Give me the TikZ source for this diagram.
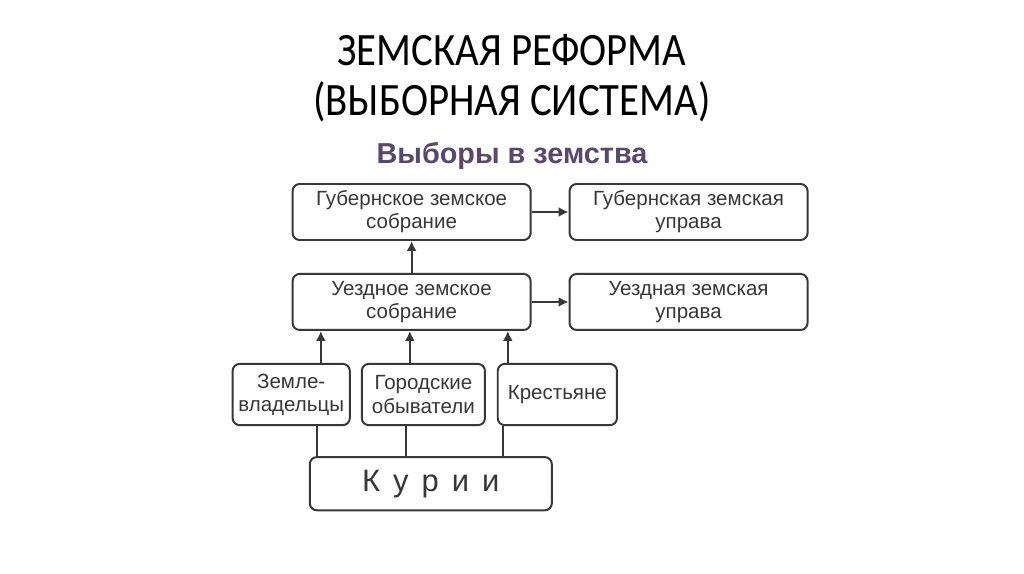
\documentclass[tikz,border=0pt]{standalone}
\usepackage{fontspec}
\setmainfont{Liberation Sans}
\newfontfamily\titlefont[FakeStretch=0.88]{Carlito}
\usepackage{xcolor}
\usetikzlibrary{arrows.meta,positioning}

\definecolor{boxline}{RGB}{55,55,55}
\definecolor{headpurple}{RGB}{88,72,108}

\begin{document}
\begin{tikzpicture}[
      block/.style={draw=boxline, line width=1.4pt, rounded corners=5pt, align=center, text=boxline,
                    font=\fontsize{14.6}{16.5}\selectfont, minimum width=5.95cm, minimum height=1.4cm, inner sep=0pt},
      smallblock/.style={block, minimum height=1.53cm},
      link/.style={draw=boxline, line width=1.4pt},
      >={Latex[length=7pt,width=7pt]}
    ]
    \useasboundingbox[fill=white] (0,0) rectangle (25.6,-14.35);

    % Title
    \node[align=center, font=\titlefont\fontsize{33}{35.5}\selectfont] (title) at (12.8,-1.95)
      {ЗЕМСКАЯ РЕФОРМА\\(ВЫБОРНАЯ СИСТЕМА)};
    \node[font=\bfseries\fontsize{20.5}{22}\selectfont, text=headpurple] (head) at (12.8,-3.9) {Выборы в земства};

    % Nodes
    \node[block] (gzs) at (10.29,-5.3) {Губернское земское\\собрание};
    \node[block, right=0.925cm of gzs] (gzu) {Губернская земская\\управа};
    \node[block, below=0.8cm of gzs] (uzs) {Уездное земское\\собрание};
    \node[block, right=0.925cm of uzs] (uzu) {Уездная земская\\управа};
    \node[smallblock, minimum width=2.93cm, below=0.8cm of uzs.south west, anchor=north west, xshift=-1.5cm] (zeml) {Земле-\\владельцы};
    \node[smallblock, minimum width=3.08cm, right=0.25cm of zeml] (gorod) {Городские\\обыватели};
    \node[smallblock, minimum width=2.98cm, right=0.27cm of gorod] (krest) {Крестьяне};
    \node[block, minimum width=6.05cm, minimum height=1.33cm, font=\fontsize{22}{26}\selectfont,
          below=0.75cm of zeml.south west, anchor=north west, xshift=1.93cm] (kurii)
      {К\hspace{0.42em}у\hspace{0.42em}р\hspace{0.42em}и\hspace{0.42em}и};

    % Arrows between assemblies and boards
    \draw[link, ->] (gzs) -- (gzu);
    \draw[link, ->] (uzs) -- (uzu);
    \draw[link, ->] (uzs) -- (gzs);

    % Curiae to the district assembly
    \draw[link, ->] ([xshift=0.3cm]kurii.north west |- zeml.north) -- ([xshift=0.3cm]kurii.north west |- uzs.south);
    \draw[link, ->] ([xshift=2.525cm]kurii.north west |- gorod.north) -- ([xshift=2.525cm]kurii.north west |- uzs.south);
    \draw[link, ->] ([xshift=4.975cm]kurii.north west |- krest.north) -- ([xshift=4.975cm]kurii.north west |- uzs.south);
    \draw[link] ([xshift=0.2cm]kurii.north west) -- ([xshift=0.2cm]kurii.north west |- zeml.south);
    \draw[link] ([xshift=2.425cm]kurii.north west) -- ([xshift=2.425cm]kurii.north west |- gorod.south);
    \draw[link] ([xshift=4.85cm]kurii.north west) -- ([xshift=4.85cm]kurii.north west |- krest.south);
  \end{tikzpicture}
\end{document}
